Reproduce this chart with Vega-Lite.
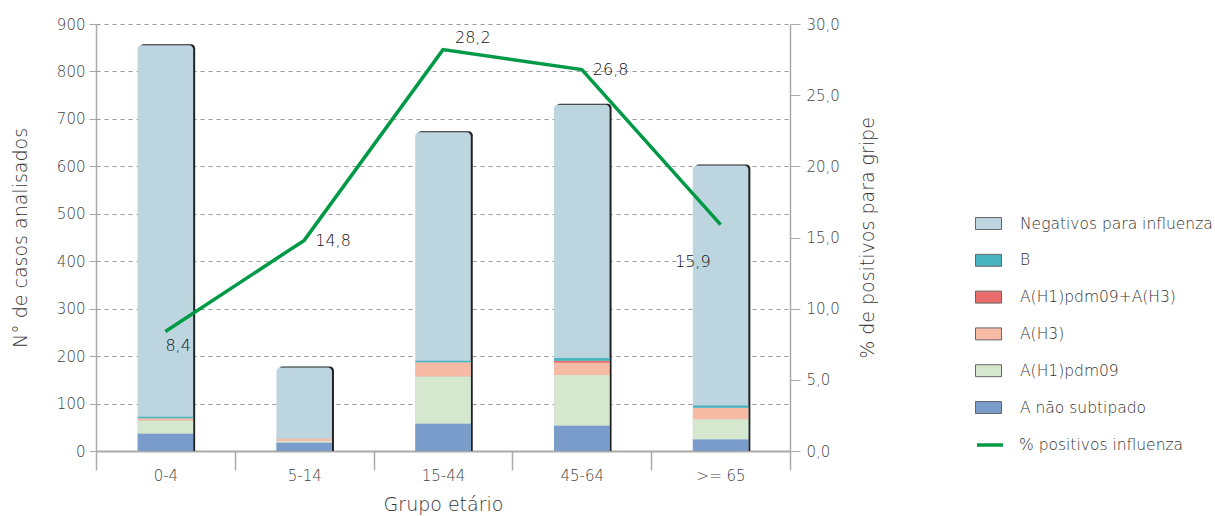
{
  "$schema": "https://vega.github.io/schema/vega-lite/v6.json",
  "width": 694,
  "height": 427,
  "autosize": "none",
  "padding": {"left": 96, "top": 24, "right": 425, "bottom": 65},
  "config": {
    "font": "DejaVu Sans",
    "view": {"stroke": null},
    "locale": {"number": {"decimal": ",", "thousands": ".", "grouping": [3], "currency": ["", " €"]}},
    "axis": {"labelFontWeight": 200, "titleFontWeight": 200, "labelColor": "#444", "titleColor": "#333"},
    "legend": {"labelFontWeight": 200, "labelLimit": 400}
  },
  "datasets": {
    "casos": [
      {"grupo": "0-4", "tipo": "A não subtipado", "n": 37, "ord": 1},
      {"grupo": "0-4", "tipo": "A(H1)pdm09", "n": 27, "ord": 2},
      {"grupo": "0-4", "tipo": "A(H3)", "n": 5, "ord": 3},
      {"grupo": "0-4", "tipo": "A(H1)pdm09+A(H3)", "n": 0, "ord": 4},
      {"grupo": "0-4", "tipo": "B", "n": 3, "ord": 5},
      {"grupo": "0-4", "tipo": "Negativos para influenza", "n": 783, "ord": 6},
      {"grupo": "5-14", "tipo": "A não subtipado", "n": 18, "ord": 1},
      {"grupo": "5-14", "tipo": "A(H1)pdm09", "n": 3, "ord": 2},
      {"grupo": "5-14", "tipo": "A(H3)", "n": 5, "ord": 3},
      {"grupo": "5-14", "tipo": "A(H1)pdm09+A(H3)", "n": 0, "ord": 4},
      {"grupo": "5-14", "tipo": "B", "n": 0, "ord": 5},
      {"grupo": "5-14", "tipo": "Negativos para influenza", "n": 150, "ord": 6},
      {"grupo": "15-44", "tipo": "A não subtipado", "n": 58, "ord": 1},
      {"grupo": "15-44", "tipo": "A(H1)pdm09", "n": 99, "ord": 2},
      {"grupo": "15-44", "tipo": "A(H3)", "n": 30, "ord": 3},
      {"grupo": "15-44", "tipo": "A(H1)pdm09+A(H3)", "n": 0, "ord": 4},
      {"grupo": "15-44", "tipo": "B", "n": 3, "ord": 5},
      {"grupo": "15-44", "tipo": "Negativos para influenza", "n": 482, "ord": 6},
      {"grupo": "45-64", "tipo": "A não subtipado", "n": 54, "ord": 1},
      {"grupo": "45-64", "tipo": "A(H1)pdm09", "n": 106, "ord": 2},
      {"grupo": "45-64", "tipo": "A(H3)", "n": 26, "ord": 3},
      {"grupo": "45-64", "tipo": "A(H1)pdm09+A(H3)", "n": 4, "ord": 4},
      {"grupo": "45-64", "tipo": "B", "n": 6, "ord": 5},
      {"grupo": "45-64", "tipo": "Negativos para influenza", "n": 534, "ord": 6},
      {"grupo": ">= 65", "tipo": "A não subtipado", "n": 25, "ord": 1},
      {"grupo": ">= 65", "tipo": "A(H1)pdm09", "n": 42, "ord": 2},
      {"grupo": ">= 65", "tipo": "A(H3)", "n": 24, "ord": 3},
      {"grupo": ">= 65", "tipo": "A(H1)pdm09+A(H3)", "n": 0, "ord": 4},
      {"grupo": ">= 65", "tipo": "B", "n": 5, "ord": 5},
      {"grupo": ">= 65", "tipo": "Negativos para influenza", "n": 506, "ord": 6}
    ],
    "pct": [
      {"grupo": "0-4", "pct": 8.4},
      {"grupo": "5-14", "pct": 14.8},
      {"grupo": "15-44", "pct": 28.2},
      {"grupo": "45-64", "pct": 26.8},
      {"grupo": ">= 65", "pct": 15.9}
    ]
  },
  "resolve": {"scale": {"y": "independent"}},
  "layer": [
    {
      "data": {"name": "casos"},
      "encoding": {
        "x": {
          "field": "grupo", "type": "nominal",
          "scale": {"domain": ["0-4", "5-14", "15-44", "45-64", ">= 65"], "paddingInner": 0, "paddingOuter": 0},
          "axis": {
            "title": "Grupo etário", "titleFontSize": 19, "titlePadding": 12,
            "labelFontSize": 15, "labelAngle": 0, "labelPadding": -2,
            "tickBand": "extent", "tickSize": 19, "tickColor": "#aaa", "tickWidth": 1.5,
            "domainColor": "#aaa", "domainWidth": 2
          }
        },
        "y": {
          "aggregate": "sum", "field": "n", "type": "quantitative",
          "scale": {"domain": [0, 900], "nice": false},
          "axis": {
            "title": "N° de casos analisados", "titleFontSize": 19, "titlePadding": 26,
            "values": [0, 100, 200, 300, 400, 500, 600, 700, 800, 900],
            "labelFontSize": 15, "labelPadding": 4,
            "tickSize": 7, "tickColor": "#aaa", "domainColor": "#aaa", "domainWidth": 1.5,
            "grid": true, "gridDash": [4, 4], "gridColor": "#999", "gridWidth": 1.1
          }
        }
      },
      "layer": [
        {
          "mark": {"type": "bar", "fill": "#222", "xOffset": 2, "yOffset": -1, "width": {"band": 0.4}, "cornerRadiusTopLeft": 4, "cornerRadiusTopRight": 4}
        },
        {
          "mark": {"type": "bar", "width": {"band": 0.4}, "cornerRadiusTopLeft": 4, "cornerRadiusTopRight": 4},
          "encoding": {
            "color": {
              "datum": "Negativos para influenza", "type": "nominal", "title": null,
              "scale": {
                "domain": ["Negativos para influenza", "B", "A(H1)pdm09+A(H3)", "A(H3)", "A(H1)pdm09", "A não subtipado"],
                "range": ["#bcd5df", "#48b4c0", "#e86d6c", "#f7baa5", "#d6e7cf", "#7a9ccb"]
              },
              "legend": {
                "title": null, "orient": "none", "legendX": 879, "legendY": 186,
                "symbolType": "M-1,-0.46H1V0.46H-1Z", "symbolSize": 676,
                "symbolStrokeColor": "#666", "symbolStrokeWidth": 1,
                "labelFontSize": 15.5, "labelColor": "#333", "labelOffset": 18, "rowPadding": 14.8
              }
            }
          }
        },
        {
          "transform": [{"filter": "datum.tipo !== 'Negativos para influenza'"}],
          "mark": {"type": "bar", "width": {"band": 0.4}},
          "encoding": {
            "color": {"field": "tipo", "type": "nominal", "title": null},
            "order": {"aggregate": "min", "field": "ord", "type": "quantitative"}
          }
        }
      ]
    },
    {
      "data": {"name": "pct"},
      "encoding": {
        "x": {"field": "grupo", "type": "nominal"},
        "y": {
          "field": "pct", "type": "quantitative",
          "scale": {"domain": [0, 30], "nice": false},
          "axis": {
            "orient": "right", "title": "% de positivos para gripe", "titleFontSize": 19, "titleAngle": 270, "titlePadding": 38,
            "values": [0, 5, 10, 15, 20, 25, 30], "format": ".1f",
            "labelFontSize": 15, "labelPadding": 6,
            "tickSize": 10, "tickColor": "#aaa", "domainColor": "#aaa", "domainWidth": 1.5, "grid": false
          }
        }
      },
      "layer": [
        {
          "mark": {"type": "line", "strokeWidth": 3.5},
          "encoding": {
            "stroke": {
              "datum": "% positivos influenza", "type": "nominal",
              "scale": {"range": ["#009a47"]},
              "legend": {
                "title": null, "orient": "none", "legendX": 879, "legendY": 406,
                "symbolType": "stroke", "symbolSize": 676, "symbolStrokeWidth": 3.5,
                "labelFontSize": 15.5, "labelColor": "#333", "labelOffset": 14
              }
            }
          }
        },
        {
          "transform": [{"filter": "datum.grupo === '0-4'"}],
          "mark": {"type": "text", "fontSize": 16, "fontWeight": 200, "color": "#111", "align": "left", "baseline": "middle", "dx": 0, "dy": 15},
          "encoding": {"text": {"field": "pct", "type": "quantitative", "format": ".1f"}}
        },
        {
          "transform": [{"filter": "datum.grupo === '5-14'"}],
          "mark": {"type": "text", "fontSize": 16, "fontWeight": 200, "color": "#111", "align": "left", "baseline": "middle", "dx": 11, "dy": 1},
          "encoding": {"text": {"field": "pct", "type": "quantitative", "format": ".1f"}}
        },
        {
          "transform": [{"filter": "datum.grupo === '15-44'"}],
          "mark": {"type": "text", "fontSize": 16, "fontWeight": 200, "color": "#111", "align": "left", "baseline": "middle", "dx": 12, "dy": -12},
          "encoding": {"text": {"field": "pct", "type": "quantitative", "format": ".1f"}}
        },
        {
          "transform": [{"filter": "datum.grupo === '45-64'"}],
          "mark": {"type": "text", "fontSize": 16, "fontWeight": 200, "color": "#111", "align": "left", "baseline": "middle", "dx": 11, "dy": 0},
          "encoding": {"text": {"field": "pct", "type": "quantitative", "format": ".1f"}}
        },
        {
          "transform": [{"filter": "datum.grupo === '>= 65'"}],
          "mark": {"type": "text", "fontSize": 16, "fontWeight": 200, "color": "#111", "align": "right", "baseline": "middle", "dx": -10, "dy": 37},
          "encoding": {"text": {"field": "pct", "type": "quantitative", "format": ".1f"}}
        }
      ]
    }
  ]
}
